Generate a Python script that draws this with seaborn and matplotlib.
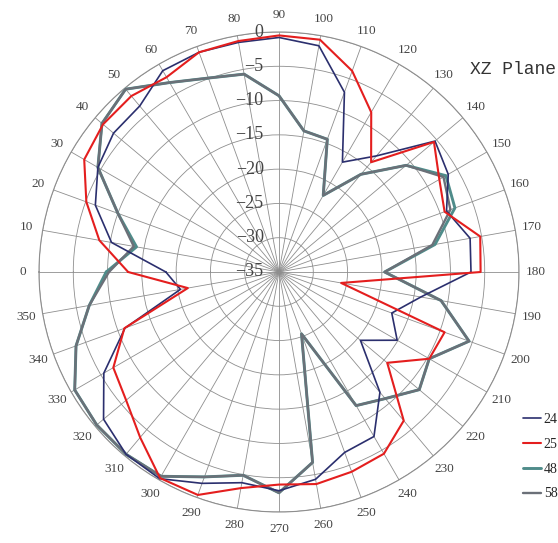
import numpy as np
import pandas as pd
import matplotlib
matplotlib.use('Agg')
import matplotlib.pyplot as plt
import seaborn as sns

# Diagramme de rayonnement, plan XZ (gain en dB)
angles = [0, 10, 20, 30, 40, 50, 60, 70, 80, 90, 100, 110,
          120, 130, 140, 150, 160, 170, 180, 190, 200, 210, 220, 230,
          240, 250, 260, 270, 280, 290, 300, 310, 320, 330, 340, 350]

gain_2400 = [-18.5, -10.2, -6.5, -4.5, -3.5, -3.4, -1.1, -0.9, -1.0, -0.8, -1.5, -7.1,
             -16.5, -12.9, -5.3, -6.5, -9.0, -6.7, -7.0, -14.0, -17.5, -15.1, -19.5, -12.1,
             -7.3, -7.0, -4.3, -3.1, -3.8, -2.2, -0.2, -0.3, -1.6, -5.5, -11.1, -20.4]

gain_2500 = [-13.0, -8.4, -5.1, -2.2, -1.5, -1.5, -2.2, -0.9, -0.8, -0.5, -0.6, -3.8,
             -8.1, -14.1, -5.5, -8.0, -9.3, -5.2, -5.6, -25.8, -9.3, -9.7, -14.4, -6.7,
             -4.4, -4.0, -3.6, -4.0, -3.0, -0.4, -0.3, -3.5, -5.9, -7.1, -11.0, -21.5]

gain_4800 = [-9.8, -13.9, -10.0, -4.5, -1.3, -0.2, -3.1, -4.9, -5.7, -9.3, -14.1, -14.4,
             -22.1, -16.4, -10.8, -6.9, -7.7, -11.9, -19.6, -11.0, -5.5, -9.7, -8.3, -10.9,
             -12.5, -25.4, -6.8, -2.8, -4.9, -3.2, -0.6, -0.3, -0.3, -0.6, -3.5, -6.9]

gain_5800 = [-10.2, -13.5, -10.0, -4.5, -1.3, -0.2, -3.1, -4.9, -5.7, -9.3, -14.1, -14.4,
             -22.1, -16.4, -10.8, -7.3, -8.4, -12.3, -19.6, -11.0, -5.5, -9.7, -8.3, -10.9,
             -12.5, -25.4, -6.8, -2.8, -4.9, -3.2, -0.6, -0.3, -0.3, -0.6, -3.5, -6.9]

# légende tronquée par le bord droit dans l'original
labels = ['24', '25', '48', '58']
r_ticks = [-35, -30, -25, -20, -15, -10, -5, 0]

sns.set_style('white')
plt.rcParams['font.family'] = ['Liberation Serif', 'DejaVu Sans']

fig = plt.figure(figsize=(5.58, 5.43), dpi=100)
ax = fig.add_axes([39 / 558, 31 / 543, 480 / 558, 480 / 543], projection='polar')
ax.set_theta_zero_location('W')
ax.set_theta_direction(-1)

# (série, couleur, épaisseur, zorder)
series = [
    (gain_2400, '#2b2f6e', 1.2, 4),
    (gain_2500, '#e41e1e', 1.5, 5),
    (gain_4800, '#4f8c8a', 2.1, 3),
    (gain_5800, '#6b7078', 1.7, 3.2),
]

theta = np.deg2rad(angles + [360])
for (vals, color, lw, z), label in zip(series, labels):
    sns.lineplot(x=theta, y=vals + vals[:1], sort=False, color=color,
                 linewidth=lw, label=label, ax=ax, zorder=z)

ax.set_xlabel('')
ax.set_ylabel('')
ax.set_ylim(-35, 0)
ax.set_yticks(r_ticks)
ax.set_yticklabels([])
ax.set_xticks(np.deg2rad(angles))
ax.set_xticklabels([str(a) for a in angles])
ax.tick_params(axis='x', pad=1.5, labelsize=9.5, labelcolor='#444444')
ax.grid(True, color='#8e8e8e', linewidth=0.6)
ax.spines['polar'].set_color('#8e8e8e')
ax.spines['polar'].set_linewidth(0.8)

# Étiquettes radiales le long de l'axe vertical
for v in r_ticks:
    txt = '0' if v == 0 else '\u2212' + str(-v)
    ax.annotate(txt, xy=(np.pi / 2, v), xytext=(-11, 0), textcoords='offset points',
                ha='right', va='center', fontsize=13, color='#444444')

fig.text(470 / 558, 1 - 70 / 543, 'XZ Plane', fontsize=13, family='Liberation Mono',
         ha='left', va='center', color='#333333')

ax.legend(loc='upper left', bbox_to_anchor=(523 / 558, 1 - 413 / 543),
          bbox_transform=fig.transFigure, frameon=False, fontsize=10,
          handlelength=1.3, handletextpad=0.2, labelspacing=0.85,
          borderpad=0, borderaxespad=0)

fig.savefig('out.png', dpi=100)
